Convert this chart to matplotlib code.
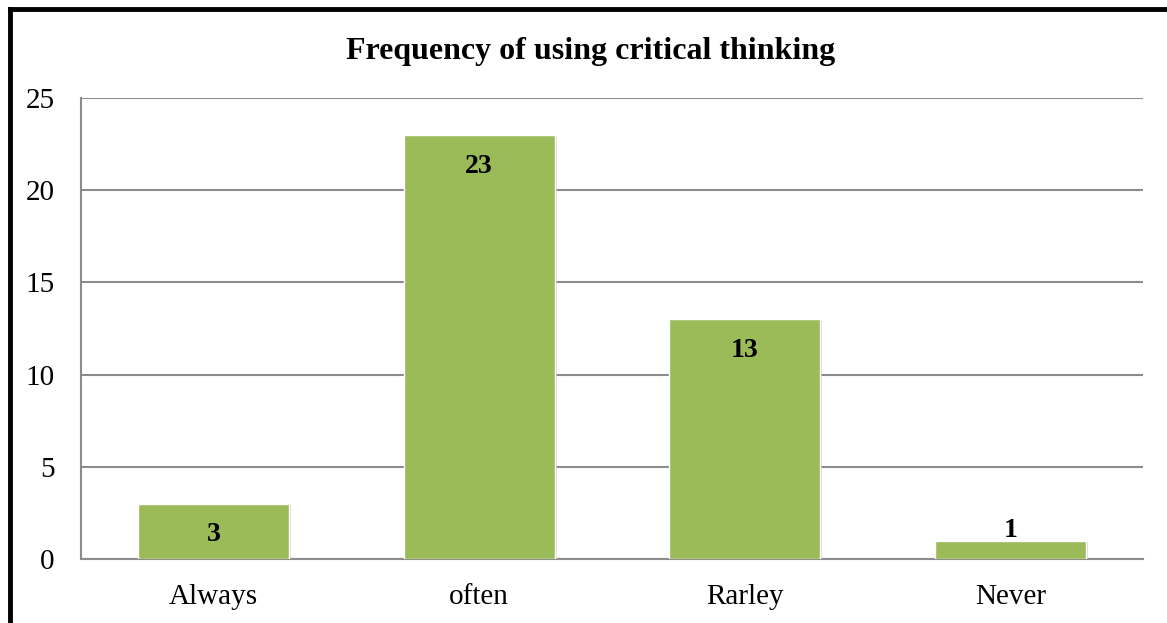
import matplotlib
matplotlib.use("Agg")
import matplotlib.pyplot as plt
from matplotlib.lines import Line2D
import matplotlib.patheffects as pe

categories = ["Always", "often", "Rarley", "Never"]
counts = [3, 23, 13, 1]
yticks = [0, 5, 10, 15, 20, 25]
title = "Frequency of using critical thinking"

bar_color = "#9BBB59"
grid_color = "#8C8C8C"

plt.rcParams["font.family"] = ["Liberation Serif", "DejaVu Serif"]

W, H = 1167, 623
fig = plt.figure(figsize=(W / 100, H / 100), dpi=100)
ax = fig.add_axes([81 / W, 1 - 559 / H, (1143 - 81) / W, (559 - 98) / H])

x = list(range(len(categories)))
bars = ax.bar(x, counts, width=0.57, color=bar_color, edgecolor="white",
              linewidth=1.0, zorder=3)
for b in bars:
    b.set_path_effects([pe.SimplePatchShadow(offset=(1.2, -1.2), shadow_rgbFace="#bfbfbf", alpha=0.6),
                        pe.Normal()])

ax.set_xlim(-0.5, len(categories) - 0.5)
ax.set_ylim(0, 25)
ax.set_yticks(yticks)
ax.set_xticks(x)
ax.set_xticklabels(categories)
ax.tick_params(axis="both", length=0, labelsize=21, colors="black")
ax.tick_params(axis="y", pad=19)
ax.tick_params(axis="x", pad=18)
ax.yaxis.grid(True, color=grid_color, linewidth=1.5, zorder=0)
ax.set_axisbelow(True)
for side in ("top", "right"):
    ax.spines[side].set_visible(False)
for side in ("left", "bottom"):
    ax.spines[side].set_color(grid_color)
    ax.spines[side].set_linewidth(1.5)

for xi, v in zip(x, counts):
    offset = -22.5 if v >= 2 else 7.5
    ax.annotate(str(v), (xi, v), xytext=(0, offset), textcoords="offset points",
                ha="center", va="center", fontsize=20, fontweight="bold", zorder=4)

fig.text(591 / W, 1 - 51 / H, title, ha="center", va="center",
         fontsize=23, fontweight="bold")

# outer frame (left and top edges)
fig.add_artist(Line2D([10 / W, 10 / W], [0, 1 - 9 / H], color="black", linewidth=3.5,
                      transform=fig.transFigure, solid_capstyle="projecting"))
fig.add_artist(Line2D([10 / W, 1], [1 - 9 / H, 1 - 9 / H], color="black", linewidth=3.5,
                      transform=fig.transFigure, solid_capstyle="projecting"))

fig.savefig("out.png", dpi=100, facecolor="white")
